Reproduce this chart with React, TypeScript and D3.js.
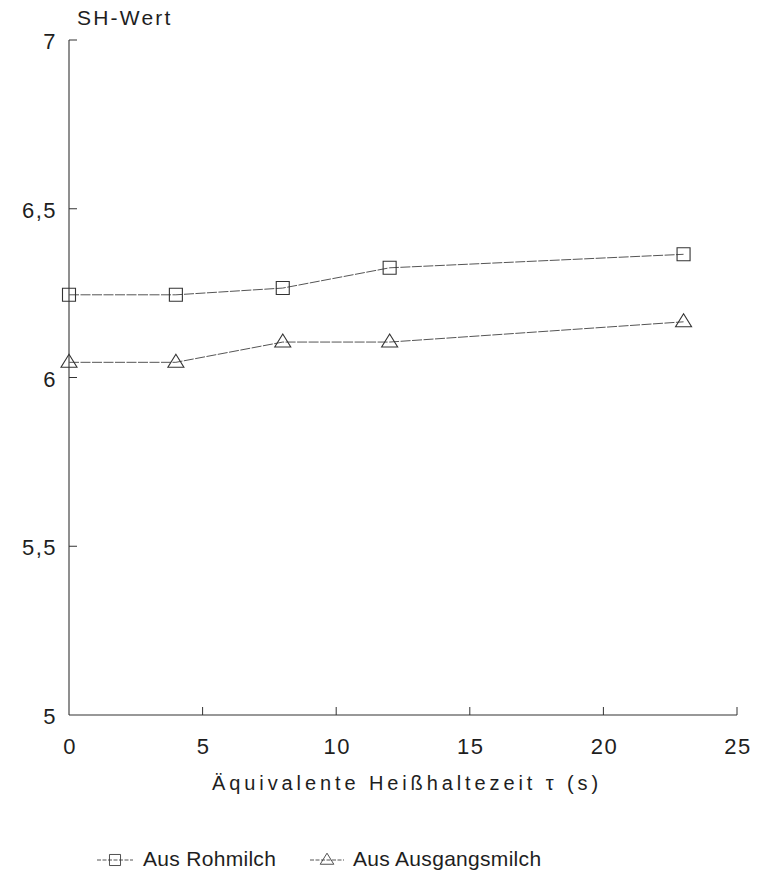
import { useRef, useEffect } from "react";
import * as d3 from "d3";

const times = [0, 4, 8, 12, 23];
const rohmilch = [6.245, 6.245, 6.265, 6.325, 6.365];
const ausgangsmilch = [6.045, 6.045, 6.105, 6.105, 6.165];
const xTicks = [0, 5, 10, 15, 20, 25];
const yTicks = [5, 5.5, 6, 6.5, 7];
const seriesNames = ["Aus Rohmilch", "Aus Ausgangsmilch"];

const W = 761;
const H = 881;
const FONT = "'Liberation Sans', Arial, sans-serif";
const INK = "#333";
const TXT = "#1e1e1e";

// triangle as in the scan: apex high, base slightly under the value
const triPath = "M0,-8L8,5L-8,5Z";

export default function App() {
  const svgRef = useRef<SVGSVGElement | null>(null);

  useEffect(() => {
    const svg = d3.select(svgRef.current);
    svg.selectAll("*").remove();

    const x = d3.scaleLinear().domain([0, 25]).range([69, 737]);
    const y = d3.scaleLinear().domain([5, 7]).range([715, 40]);
    const fmt = (v: number) => String(v).replace(".", ",");

    const g = svg.append("g");

    // left + bottom axis lines
    g.append("line")
      .attr("x1", x(0)).attr("x2", x(0))
      .attr("y1", y(7)).attr("y2", y(5))
      .attr("stroke", INK).attr("stroke-width", 1.1);
    g.append("line")
      .attr("x1", x(0)).attr("x2", x(25))
      .attr("y1", y(5)).attr("y2", y(5))
      .attr("stroke", INK).attr("stroke-width", 1.1);

    // y ticks point inward
    g.append("g")
      .selectAll("line")
      .data(yTicks.slice(1))
      .join("line")
      .attr("x1", x(0)).attr("x2", x(0) + 8)
      .attr("y1", (d) => y(d)).attr("y2", (d) => y(d))
      .attr("stroke", INK);
    g.append("g")
      .selectAll("text")
      .data(yTicks)
      .join("text")
      .attr("x", 57)
      .attr("y", (d) => y(d) + 9)
      .attr("text-anchor", "end")
      .attr("font-family", FONT)
      .attr("font-size", 22)
      .attr("letter-spacing", 1.5)
      .attr("fill", TXT)
      .text((d) => fmt(d));

    // x ticks point upward
    g.append("g")
      .selectAll("line")
      .data(xTicks.slice(1))
      .join("line")
      .attr("x1", (d) => x(d)).attr("x2", (d) => x(d))
      .attr("y1", y(5)).attr("y2", y(5) - 8)
      .attr("stroke", INK);
    g.append("g")
      .selectAll("text")
      .data(xTicks)
      .join("text")
      .attr("x", (d) => x(d) + 1)
      .attr("y", 754)
      .attr("text-anchor", "middle")
      .attr("font-family", FONT)
      .attr("font-size", 22)
      .attr("letter-spacing", 1.5)
      .attr("fill", TXT)
      .text((d) => d);

    // titles
    svg.append("text")
      .attr("x", 77).attr("y", 25)
      .attr("font-family", FONT).attr("font-size", 21)
      .attr("letter-spacing", 2.2).attr("fill", TXT)
      .text("SH-Wert");
    svg.append("text")
      .attr("x", 212).attr("y", 790)
      .attr("font-family", FONT).attr("font-size", 20)
      .attr("letter-spacing", 3.9).attr("fill", TXT)
      .text("Äquivalente Heißhaltezeit τ (s)");

    const line = d3
      .line<number>()
      .x((_, i) => x(times[i]))
      .y((d) => y(d));

    [rohmilch, ausgangsmilch].forEach((vals) => {
      g.append("path")
        .datum(vals)
        .attr("fill", "none")
        .attr("stroke", "#555")
        .attr("stroke-width", 1)
        .attr("stroke-dasharray", "10,1.5")
        .attr("d", line);
    });

    const square = d3.symbol().type(d3.symbolSquare).size(169);

    g.append("g")
      .selectAll("path")
      .data(rohmilch)
      .join("path")
      .attr("d", square)
      .attr("transform", (d, i) => `translate(${x(times[i])},${y(d)})`)
      .attr("fill", "none")
      .attr("stroke", INK)
      .attr("stroke-width", 1.1);
    g.append("g")
      .selectAll("path")
      .data(ausgangsmilch)
      .join("path")
      .attr("d", triPath)
      .attr("transform", (d, i) => `translate(${x(times[i])},${y(d)})`)
      .attr("fill", "none")
      .attr("stroke", INK)
      .attr("stroke-width", 1.1);

    // legend
    const legend = svg.append("g");
    const items = [
      { name: seriesNames[0], x0: 97, x1: 133, tx: 143, sym: square() as string },
      { name: seriesNames[1], x0: 310, x1: 344, tx: 353, sym: triPath },
    ];
    items.forEach((it) => {
      const cx = (it.x0 + it.x1) / 2;
      legend.append("line")
        .attr("x1", it.x0).attr("x2", it.x1)
        .attr("y1", 860).attr("y2", 860)
        .attr("stroke", "#555").attr("stroke-dasharray", "4,1.5");
      legend.append("path")
        .attr("d", it.sym)
        .attr("transform", `translate(${cx},860) scale(0.85)`)
        .attr("fill", "none").attr("stroke", INK);
      legend.append("text")
        .attr("x", it.tx).attr("y", 866)
        .attr("font-family", FONT).attr("font-size", 21)
        .attr("letter-spacing", 0.3).attr("fill", TXT)
        .text(it.name);
    });
  }, []);

  return (
    <div style={{ position: "absolute", left: 0, top: 0, width: W, height: H, background: "#fff" }}>
      <svg ref={svgRef} width={W} height={H} />
    </div>
  );
}
